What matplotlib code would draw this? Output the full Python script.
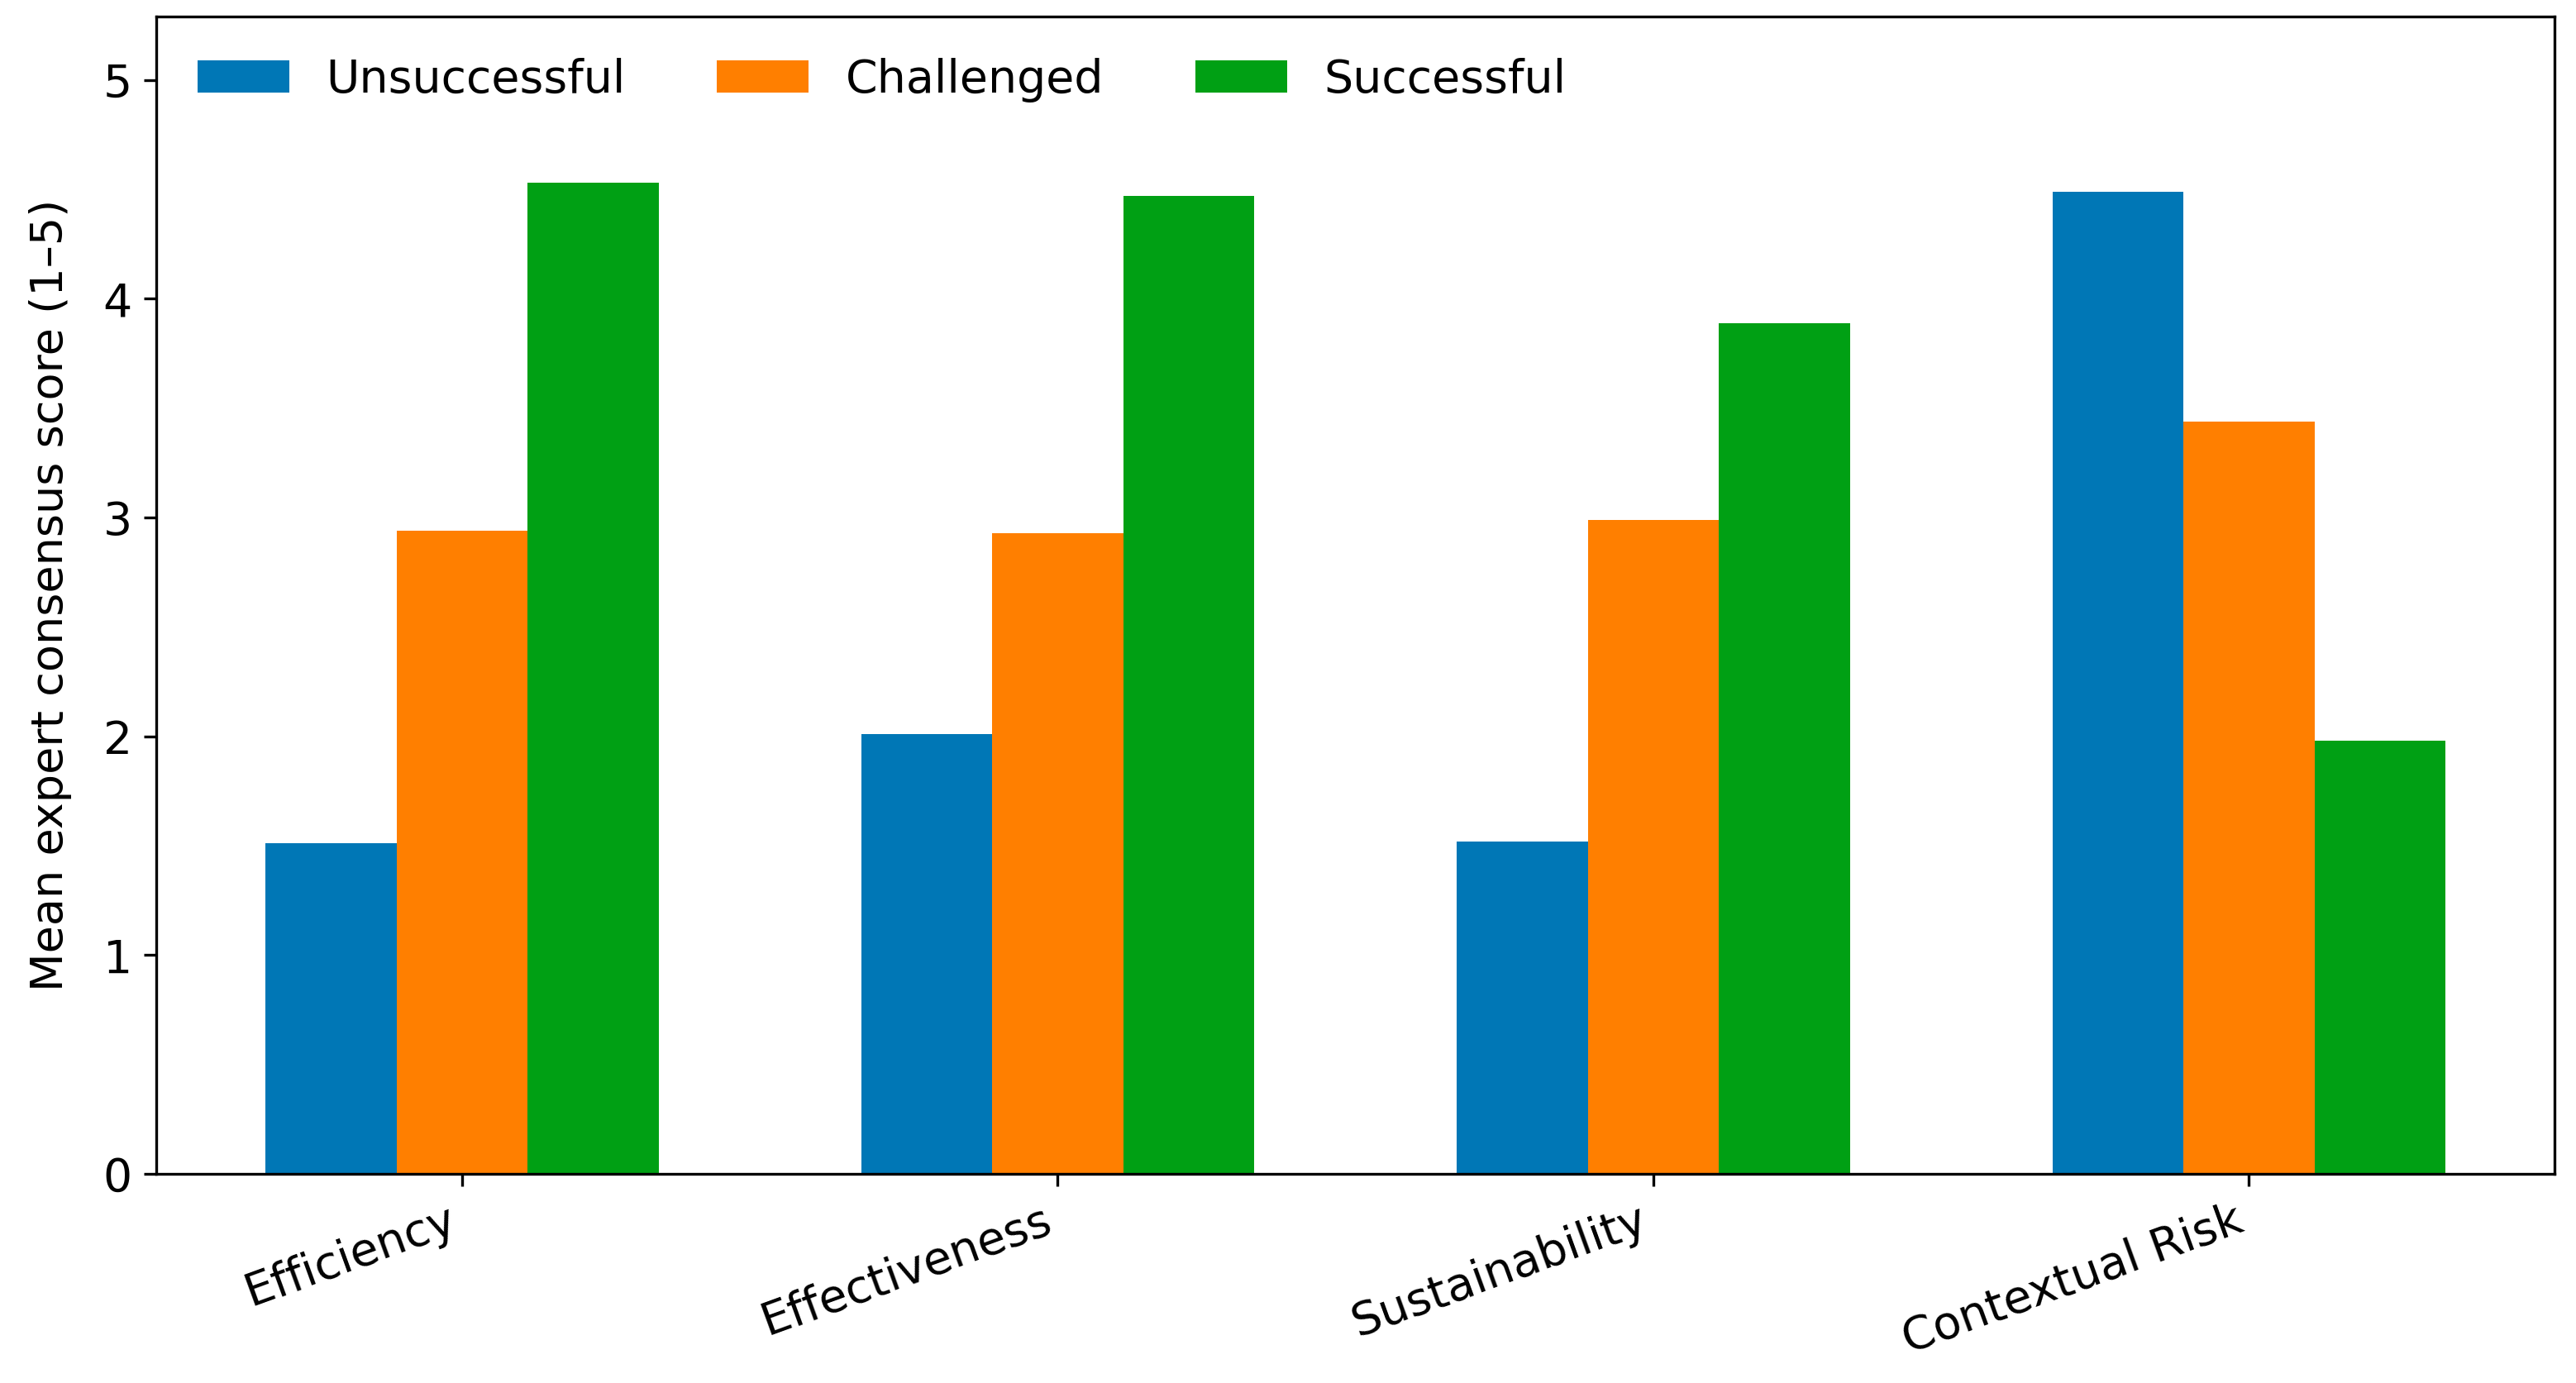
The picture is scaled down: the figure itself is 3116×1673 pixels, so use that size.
import matplotlib.pyplot as plt
import numpy as np

categories = ['Efficiency', 'Effectiveness', 'Sustainability', 'Contextual Risk']
groups = ['Unsuccessful', 'Challenged', 'Successful']
unsuccessful = [1.51, 2.01, 1.52, 4.49]
challenged = [2.94, 2.93, 2.99, 3.44]
successful = [4.53, 4.47, 3.89, 1.98]
colors = ['#0077b6', '#ff7f00', '#00a014']

plt.rcParams['font.size'] = 13.3

fig = plt.figure(figsize=(3116 / 300, 1673 / 300), dpi=300)
ax = fig.add_axes([0.0607, 0.1512, 0.9310, 0.8368])

x = np.arange(len(categories))
width = 0.22
for i, (vals, label) in enumerate(zip([unsuccessful, challenged, successful], groups)):
    ax.bar(x + (i - 1) * width, vals, width, label=label, color=colors[i])

ax.set_xticks(x)
ax.set_xticklabels(categories, rotation=20, ha='right')
ax.set_ylim(0, 5.29)
ax.set_yticks([0, 1, 2, 3, 4, 5])
ax.set_ylabel('Mean expert consensus score (1\u20135)', fontsize=13, labelpad=9)
ax.legend(loc='upper left', ncol=3, frameon=False, columnspacing=2.0)

fig.savefig('out.png', dpi=300)
